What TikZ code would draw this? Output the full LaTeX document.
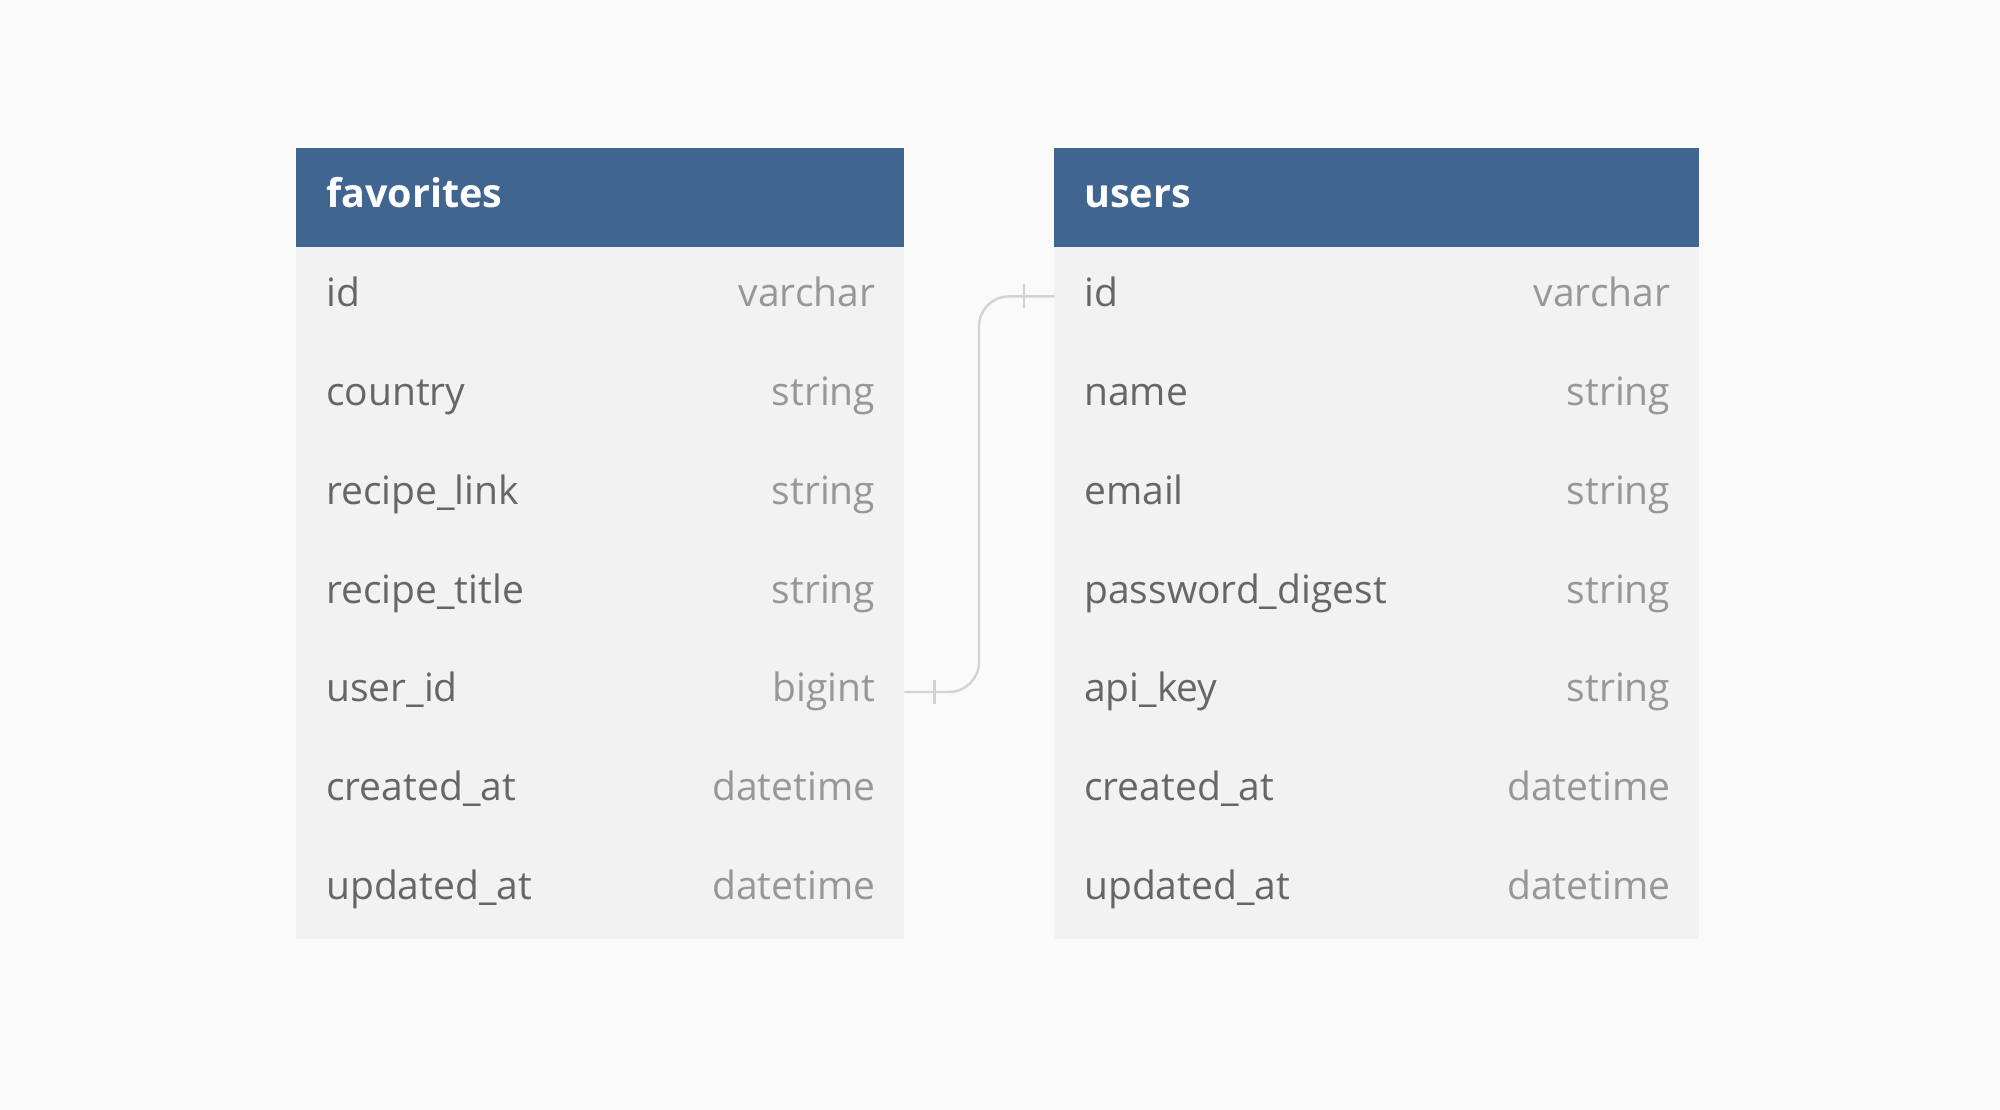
\documentclass[tikz,border=0pt]{standalone}
\usepackage{fontspec}
\setmainfont{Open Sans}
\definecolor{pagebg}{HTML}{FAFAFA}
\definecolor{bodybg}{HTML}{F2F2F2}
\definecolor{headbg}{HTML}{3F6590}
\definecolor{namefg}{HTML}{666666}
\definecolor{typefg}{HTML}{979797}
\definecolor{linkfg}{HTML}{D3D3D3}
\begin{document}
\begin{tikzpicture}[x=1pt,y=-1pt,
  header/.style={fill=headbg, inner sep=0pt, minimum height=98.7pt, anchor=north west},
  rowbox/.style={fill=bodybg, inner sep=0pt, minimum height=98.9pt, anchor=north west},
  title/.style={text=white, inner sep=0pt, anchor=base west, font=\fontsize{39.5}{48}\selectfont\bfseries},
  fname/.style={text=namefg, inner sep=0pt, anchor=base west, font=\fontsize{39}{48}\selectfont},
  ftype/.style={text=typefg, inner sep=0pt, anchor=base east, font=\fontsize{39}{48}\selectfont},
  rel/.style={draw=linkfg, line width=2.4pt},
]
% page
\fill[pagebg] (0,0) rectangle (2000,1110);
\useasboundingbox (0,0) rectangle (2000,1110);

% table: favorites
\node[header, minimum width=608pt] (fav) at (296,148) {};
\node[title] (fav-title) at ([xshift=30pt, yshift=-9.5pt]fav.west) {favorites};
\foreach \n/\t [count=\i] in {id/varchar, country/string, recipe\_link/string,
    recipe\_title/string, user\_id/bigint, created\_at/datetime, updated\_at/datetime} {
  \node[rowbox, minimum width=608pt] (fav-r\i) at (296,{246.7+98.9*(\i-1)}) {};
  \node[fname] (fav-n\i) at ([xshift=30pt, yshift=-10pt]fav-r\i.west) {\n};
  \node[ftype] (fav-t\i) at ([xshift=-29pt, yshift=-10pt]fav-r\i.east) {\t};
}

% table: users
\node[header, minimum width=645pt] (usr) at (1054,148) {};
\node[title] (usr-title) at ([xshift=30pt, yshift=-9.5pt]usr.west) {users};
\foreach \n/\t [count=\i] in {id/varchar, name/string, email/string,
    password\_digest/string, api\_key/string, created\_at/datetime, updated\_at/datetime} {
  \node[rowbox, minimum width=645pt] (usr-r\i) at (1054,{246.7+98.9*(\i-1)}) {};
  \node[fname] (usr-n\i) at ([xshift=30pt, yshift=-10pt]usr-r\i.west) {\n};
  \node[ftype] (usr-t\i) at ([xshift=-29pt, yshift=-10pt]usr-r\i.east) {\t};
}

% relation: favorites.user_id -- users.id (one to one)
\coordinate (bend) at (979,0);
\draw[rel, rounded corners=30pt] (fav-r5.east) -- (bend |- fav-r5.east)
  -- (bend |- usr-r1.west) -- (usr-r1.west);
\draw[rel] ([xshift=30pt, yshift=12pt]fav-r5.east) -- ([xshift=30pt, yshift=-12pt]fav-r5.east);
\draw[rel] ([xshift=-30pt, yshift=12pt]usr-r1.west) -- ([xshift=-30pt, yshift=-12pt]usr-r1.west);
\end{tikzpicture}
\end{document}
